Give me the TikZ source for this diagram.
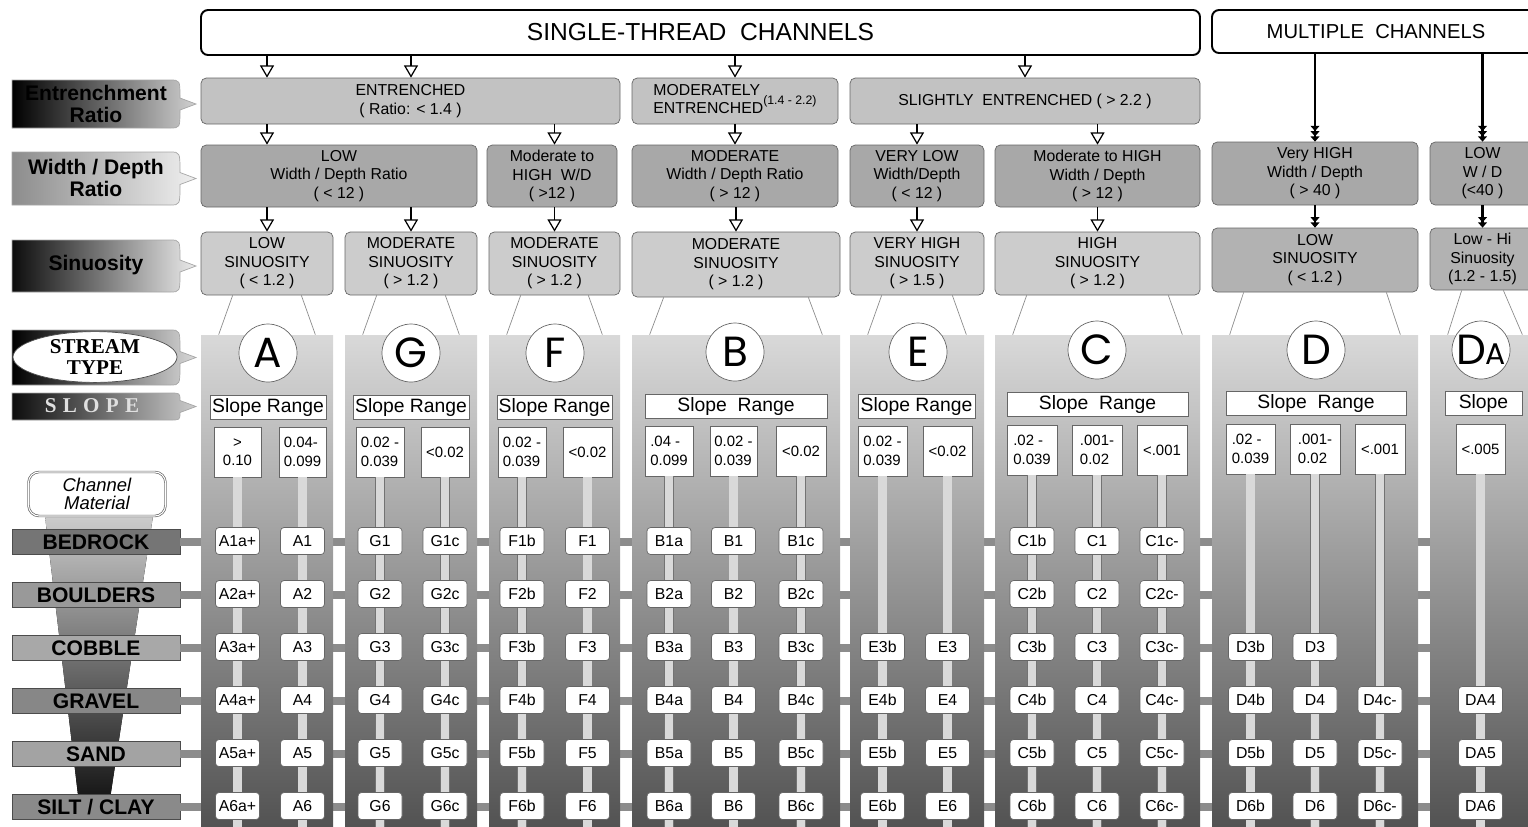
\documentclass[tikz,border=0pt]{standalone}
\usepackage{fontspec}
\setmainfont{Liberation Sans}
\newfontfamily\serifbf{Liberation Serif}
\newfontfamily\slopefont[LetterSpace=30]{Liberation Serif}
\newfontfamily\geofont{Poppins}
\usetikzlibrary{arrows.meta,calc,positioning,shapes.geometric}

\tikzstyle{chanbox} = [draw, line width=1.1pt, rounded corners=4pt, fill=white, inner sep=0pt, font=\fontsize{14}{16}\selectfont]
\tikzstyle{entbox} = [draw=black!60, fill=black!24, rounded corners=3pt, inner sep=1pt, align=center, font=\fontsize{9}{10.5}\selectfont]
\tikzstyle{wdbox} = [entbox, fill=black!34]
\tikzstyle{sinbox} = [entbox, fill=black!20]
\tikzstyle{panel} = [top color=black!15, bottom color=black!68, inner sep=0pt]
\tikzstyle{letter} = [circle, draw=black!60, fill=white, minimum size=1.16cm, inner sep=0pt, font=\geofont\fontsize{24}{24}\selectfont]
\tikzstyle{rangebox} = [draw=black!60, fill=white, inner sep=0pt, font=\fontsize{11}{12}\selectfont]
\tikzstyle{valbox} = [draw=black!60, fill=white, inner sep=1pt, align=left, font=\fontsize{8.5}{10.5}\selectfont]
\tikzstyle{typebox} = [draw=black!60, fill=white, rounded corners=2pt, minimum width=0.88cm, minimum height=0.54cm, inner sep=0pt, font=\fontsize{9}{10}\selectfont]
\tikzstyle{stripe} = [draw=black!55, line width=0.4pt, double=black!15, double distance=0.17cm]
\tikzstyle{matbar} = [line width=0.16cm, black!45]
\tikzstyle{matbox} = [draw=black!70, minimum width=3.36cm, minimum height=0.5cm, inner sep=0pt, font=\fontsize{12}{12}\selectfont\bfseries]
\tikzstyle{legtext} = [align=center, inner sep=0pt, font=\fontsize{12}{13}\selectfont\bfseries]
\tikzstyle{arr} = [line width=0.7pt, -{Triangle[open, length=7pt, width=8pt]}]
\tikzstyle{multiarr} = [line width=1.2pt, -{Triangle[length=3pt,width=5pt]Triangle[length=3pt,width=5pt]Triangle[length=3pt,width=5pt]}]
\tikzstyle{dblarr} = [line width=1.2pt, -{Triangle[length=3pt,width=5pt]Triangle[length=3pt,width=5pt]}]

\newcommand{\chartbox}[7]{\node[#1, minimum width={(#5-#3)*0.02cm}, minimum height={(#6-#4)*0.02cm}] (#2) at ({(#3+#5)/2},{(#4+#6)/2}) {#7};}
\newcommand{\typecol}[5]{\foreach \r in {#2,...,6} {\node[typebox] (#5\r) at (#1,{488+53*\r}) {#3\r#4};}}
\newcommand{\legshape}[4]{\path[left color=#3, right color=#4, draw=black!35] (12,#1) -- (170,#1) .. controls (180,#1) .. (180,{(#1+#2)/2-6}) -- (196,{(#1+#2)/2}) -- (180,{(#1+#2)/2+6}) .. controls (180,#2) .. (170,#2) -- (12,#2) -- cycle;}

\begin{document}
\begin{tikzpicture}[x=0.02cm, y=-0.02cm]
\useasboundingbox (0,0) rectangle (1528,826);
\coordinate (bot) at (0,830);
\coordinate (rgt) at (1540,0);

\chartbox{chanbox}{single}{201}{10}{1200}{55}{SINGLE-THREAD\ \ CHANNELS}
\chartbox{chanbox, font=\fontsize{11.5}{13}\selectfont}{multi}{1212}{10}{1540}{53}{MULTIPLE\ \ CHANNELS}

\chartbox{entbox}{ent}{201}{78}{620}{124}{ENTRENCHED\\( Ratio: < 1.4 )}
\chartbox{entbox}{modent}{632}{78}{838}{124}{\begin{tabular}{@{}l@{}}MODERATELY\\ENTRENCHED\end{tabular}{\fontsize{7}{8}\selectfont(1.4 - 2.2)}}
\chartbox{entbox}{slent}{850}{78}{1200}{124}{SLIGHTLY\ \ ENTRENCHED ( > 2.2 )}

\chartbox{wdbox}{lowwd}{201}{145}{477}{207}{LOW\\Width / Depth Ratio\\( < 12 )}
\chartbox{wdbox}{mhwd}{487}{145}{617}{207}{Moderate to\\HIGH\ \ W/D\\( >12 )}
\chartbox{wdbox}{modwd}{632}{145}{838}{207}{MODERATE\\Width / Depth Ratio\\( > 12 )}
\chartbox{wdbox}{vlwd}{850}{145}{984}{207}{VERY LOW\\Width/Depth\\( < 12 )}
\chartbox{wdbox}{mhwdb}{995}{145}{1200}{207}{Moderate to HIGH\\Width / Depth\\( > 12 )}
\chartbox{wdbox}{vhwd}{1212}{142}{1418}{205}{Very HIGH\\Width / Depth\\( > 40 )}
\chartbox{wdbox}{lwd}{1430}{142}{1535}{205}{LOW\\W / D\\(<40 )}

\chartbox{sinbox}{sinA}{201}{232}{333}{295}{LOW\\SINUOSITY\\( < 1.2 )}
\chartbox{sinbox}{sinG}{345}{232}{477}{295}{MODERATE\\SINUOSITY\\( > 1.2 )}
\chartbox{sinbox}{sinF}{489}{232}{620}{295}{MODERATE\\SINUOSITY\\( > 1.2 )}
\chartbox{sinbox}{sinB}{632}{232}{840}{297}{MODERATE\\SINUOSITY\\( > 1.2 )}
\chartbox{sinbox}{sinE}{850}{232}{984}{295}{VERY HIGH\\SINUOSITY\\( > 1.5 )}
\chartbox{sinbox}{sinC}{995}{232}{1200}{295}{HIGH\\SINUOSITY\\( > 1.2 )}
\chartbox{sinbox, fill=black!30}{sinD}{1212}{228}{1418}{292}{LOW\\SINUOSITY\\( < 1.2 )}
\chartbox{sinbox, fill=black!30}{sinDA}{1430}{228}{1535}{290}{Low - Hi\\Sinuosity\\(1.2 - 1.5)}

\draw[arr] (single.south -| sinA) -- (ent.north -| sinA);
\draw[arr] (single.south -| sinG) -- (ent.north -| sinG);
\draw[arr] (single.south -| modent) -- (modent.north);
\draw[arr] (single.south -| slent) -- (slent.north);
\draw[multiarr] (multi.south -| vhwd) -- (vhwd.north);
\draw[multiarr] (multi.south -| lwd) -- (lwd.north);
\draw[arr] (ent.south -| sinA) -- (lowwd.north -| sinA);
\draw[arr] (ent.south -| sinF) -- (mhwd.north -| sinF);
\draw[arr] (modent.south) -- (modwd.north);
\draw[arr] (slent.south -| sinE) -- (vlwd.north -| sinE);
\draw[arr] (slent.south -| sinC) -- (mhwdb.north -| sinC);
\draw[arr] (lowwd.south -| sinA) -- (sinA.north);
\draw[arr] (lowwd.south -| sinG) -- (sinG.north);
\draw[arr] (mhwd.south -| sinF) -- (sinF.north);
\draw[arr] (modwd.south -| sinB) -- (sinB.north);
\draw[arr] (vlwd.south -| sinE) -- (sinE.north);
\draw[arr] (mhwdb.south -| sinC) -- (sinC.north);
\draw[dblarr] (vhwd.south -| sinD) -- (sinD.north);
\draw[dblarr] (lwd.south -| sinDA) -- (sinDA.north);

\fill[top color=black!20, bottom color=black!95] (45,516) -- (153,516) -- (108,812) -- (80,812) -- cycle;
\node[draw=black!60, double, rounded corners=6pt, fill=white, minimum width=2.74cm, minimum height=0.88cm, inner sep=0pt, align=center, font=\fontsize{10.5}{10.5}\selectfont\itshape] (chmat) at (97,494) {Channel\\Material};
\node[matbox, fill=black!54] (bedrock) at (96,542) {BEDROCK};
\node[matbox, fill=black!40] (boulders) at (96,595) {BOULDERS};
\node[matbox, fill=black!34] (cobble) at (96,648) {COBBLE};
\node[matbox, fill=black!47] (gravel) at (96,701) {GRAVEL};
\node[matbox, fill=black!36] (sand) at (96,754) {SAND};
\node[matbox, fill=black!46] (silt) at (96,807) {SILT / CLAY};
\foreach \m in {bedrock,boulders,cobble,gravel,sand,silt} \draw[matbar] (\m.east) -- (\m.east -| rgt);

\chartbox{panel}{colA}{201}{335}{333}{830}{}
\chartbox{panel}{colG}{345}{335}{477}{830}{}
\chartbox{panel}{colF}{489}{335}{620}{830}{}
\chartbox{panel}{colB}{632}{335}{840}{830}{}
\chartbox{panel}{colE}{850}{335}{984}{830}{}
\chartbox{panel}{colC}{995}{335}{1200}{830}{}
\chartbox{panel}{colD}{1212}{335}{1418}{830}{}
\chartbox{panel}{colDA}{1430}{335}{1540}{830}{}
\foreach \c in {A,G,F,B,E,C,D,DA} {
\draw[black!45] ($(sin\c.south west)+(32,0)$) -- ($(col\c.north west)+(18,0)$);
\draw[black!45] ($(sin\c.south east)+(-32,0)$) -- ($(col\c.north east)+(-18,0)$);
}

\node[letter] (typeA) at (268,353) {A};
\node[letter] (typeG) at (411,353) {G};
\node[letter] (typeF) at (555,353) {F};
\node[letter] (typeB) at (735,352) {B};
\node[letter] (typeE) at (918,352) {E};
\node[letter] (typeC) at (1097,350) {C};
\node[letter] (typeD) at (1316,350) {D};
\node[letter] (typeDA) at (1481,350) {D{\fontsize{17}{17}\selectfont A}};

\chartbox{rangebox}{rA}{210}{395}{326}{419}{Slope Range}
\chartbox{rangebox}{rG}{353}{395}{469}{419}{Slope Range}
\chartbox{rangebox}{rF}{497}{395}{612}{419}{Slope Range}
\chartbox{rangebox}{rB}{645}{394}{827}{418}{Slope\ \ Range}
\chartbox{rangebox}{rE}{858}{394}{975}{418}{Slope Range}
\chartbox{rangebox}{rC}{1007}{392}{1188}{416}{Slope\ \ Range}
\chartbox{rangebox}{rD}{1226}{391}{1406}{415}{Slope\ \ Range}
\chartbox{rangebox}{rDA}{1445}{391}{1522}{415}{Slope}

\chartbox{valbox, align=center}{vA1}{214}{427}{261}{477}{>\\0.10}
\chartbox{valbox}{vA2}{279}{427}{326}{477}{0.04-\\0.099}
\chartbox{valbox}{vG1}{356}{427}{404}{477}{0.02 -\\0.039}
\chartbox{valbox}{vG2}{421}{427}{469}{477}{<0.02}
\chartbox{valbox}{vF1}{498}{427}{546}{477}{0.02 -\\0.039}
\chartbox{valbox}{vF2}{563}{427}{612}{477}{<0.02}
\chartbox{valbox}{vB1}{645}{426}{693}{476}{.04 -\\0.099}
\chartbox{valbox}{vB2}{710}{426}{757}{476}{0.02 -\\0.039}
\chartbox{valbox}{vB3}{776}{426}{826}{476}{<0.02}
\chartbox{valbox}{vE1}{858}{426}{907}{476}{0.02 -\\0.039}
\chartbox{valbox}{vE2}{923}{426}{972}{476}{<0.02}
\chartbox{valbox}{vC1}{1007}{425}{1057}{475}{.02 -\\0.039}
\chartbox{valbox}{vC2}{1072}{425}{1122}{475}{.001-\\0.02}
\chartbox{valbox}{vC3}{1137}{425}{1187}{475}{<.001}
\chartbox{valbox}{vD1}{1226}{424}{1275}{474}{.02 -\\0.039}
\chartbox{valbox}{vD2}{1290}{424}{1340}{474}{.001-\\0.02}
\chartbox{valbox}{vD3}{1355}{424}{1405}{474}{<.001}
\chartbox{valbox}{vDA}{1456}{424}{1505}{474}{<.005}
\foreach \v in {vA1,vA2,vG1,vG2,vF1,vF2,vB1,vB2,vB3,vE1,vE2,vC1,vC2,vC3,vD1,vD2,vD3,vDA} \draw[stripe] (\v.south) -- (\v.south |- bot);

\typecol{237.5}{1}{A}{a+}{Aa}
\typecol{302.5}{1}{A}{}{A}
\typecol{380}{1}{G}{}{G}
\typecol{445}{1}{G}{c}{Gc}
\typecol{522}{1}{F}{b}{Fb}
\typecol{587.5}{1}{F}{}{F}
\typecol{669}{1}{B}{a}{Ba}
\typecol{733.5}{1}{B}{}{B}
\typecol{801}{1}{B}{c}{Bc}
\typecol{882.5}{3}{E}{b}{Eb}
\typecol{947.5}{3}{E}{}{E}
\typecol{1032}{1}{C}{b}{Cb}
\typecol{1097}{1}{C}{}{C}
\typecol{1162}{1}{C}{c-}{Cc}
\typecol{1250.5}{3}{D}{b}{Db}
\typecol{1315}{3}{D}{}{D}
\typecol{1380}{4}{D}{c-}{Dc}
\typecol{1480.5}{4}{DA}{}{DA}

\legshape{80}{128}{black}{black!18}
\legshape{152}{205}{black!45}{black!6}
\legshape{240}{292}{black!95}{black!8}
\legshape{330}{385}{black}{black!15}
\legshape{393}{420}{black!95}{black!20}
\node[legtext] (entleg) at (96,104) {Entrenchment\\Ratio};
\node[legtext] (wdleg) at (96,178) {Width / Depth\\Ratio};
\node[legtext] (sinleg) at (96,265) {Sinuosity};
\node[ellipse, draw=black!70, fill=white, minimum width=3.28cm, minimum height=1cm, inner sep=0pt, align=center, font=\serifbf\fontsize{12}{12.5}\selectfont\bfseries] (typeleg) at (95,357) {STREAM\\TYPE};
\node[inner sep=0pt, text=black!12, font=\slopefont\fontsize{12}{12}\selectfont\bfseries] (slopeleg) at (92,406) {SLOPE};
\end{tikzpicture}
\end{document}
